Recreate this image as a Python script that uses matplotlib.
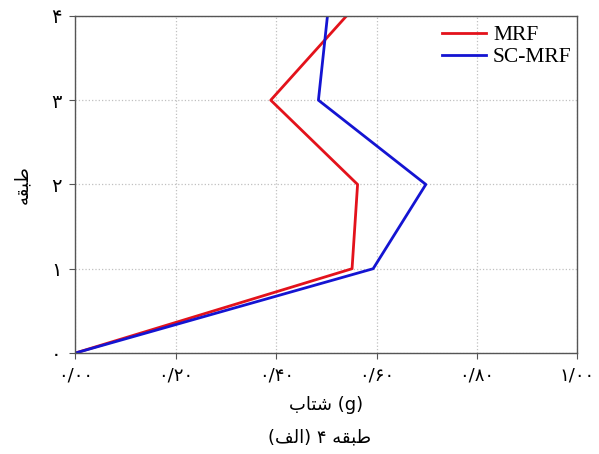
import matplotlib
matplotlib.use("Agg")
import matplotlib.pyplot as plt

# floors and peak floor acceleration (g)
floors = [0, 1, 2, 3, 4]
mrf = [0.0, 0.551, 0.562, 0.389, 0.540]
sc_mrf = [0.0, 0.593, 0.698, 0.484, 0.502]

xticks = [0.0, 0.2, 0.4, 0.6, 0.8, 1.0]
xtick_labels = ["۰/۰۰", "۰/۲۰", "۰/۴۰", "۰/۶۰", "۰/۸۰", "۱/۰۰"]
ytick_labels = ["۰", "۱", "۲", "۳", "۴"]

# persian words written in shaped (presentation) form, visual order
xlabel = "\uFE8F\uFE8E\uFE98\uFEB7 (g)"          # شتاب (g)
ylabel = "\uFEEA\uFED8\uFE92\uFEC3"                # طبقه
caption = "(\uFED2\uFEDF\uFE8D) ۴ \uFEEA\uFED8\uFE92\uFEC3"  # (الف) ۴ طبقه

fig = plt.figure(figsize=(5.99, 4.54), dpi=100)
ax = fig.add_axes([0.126, 0.2225, 0.838, 0.7425])

ax.plot(mrf, floors, color="#e3121b", lw=2.0, label="MRF")
ax.plot(sc_mrf, floors, color="#1414d2", lw=2.0, label="SC-MRF")

ax.set_xlim(0, 1)
ax.set_ylim(0, 4)
ax.set_xticks(xticks)
ax.set_xticklabels(xtick_labels, fontsize=13, family="DejaVu Sans")
ax.set_yticks(floors)
ax.set_yticklabels(ytick_labels, fontsize=14, family="DejaVu Sans")
ax.tick_params(direction="out", length=4, color="#555555", pad=6)
ax.grid(True, linestyle=":", color="#c0c0c0", lw=0.9)
for s in ax.spines.values():
    s.set_color("#555555")
    s.set_linewidth(1.0)

ax.set_xlabel(xlabel, fontsize=13, family="DejaVu Sans", labelpad=8)
ax.set_ylabel(ylabel, fontsize=13, family="DejaVu Sans", labelpad=14)
fig.text(0.534, 0.025, caption, fontsize=13, family="DejaVu Sans", ha="center")

ax.legend(loc="upper right", bbox_to_anchor=(1.01, 1.005), frameon=False,
          prop={"family": "Liberation Serif", "size": 15.5},
          handlelength=2.0, handletextpad=0.35, borderaxespad=0.1, labelspacing=0.1)

fig.savefig("out.png", dpi=100)
